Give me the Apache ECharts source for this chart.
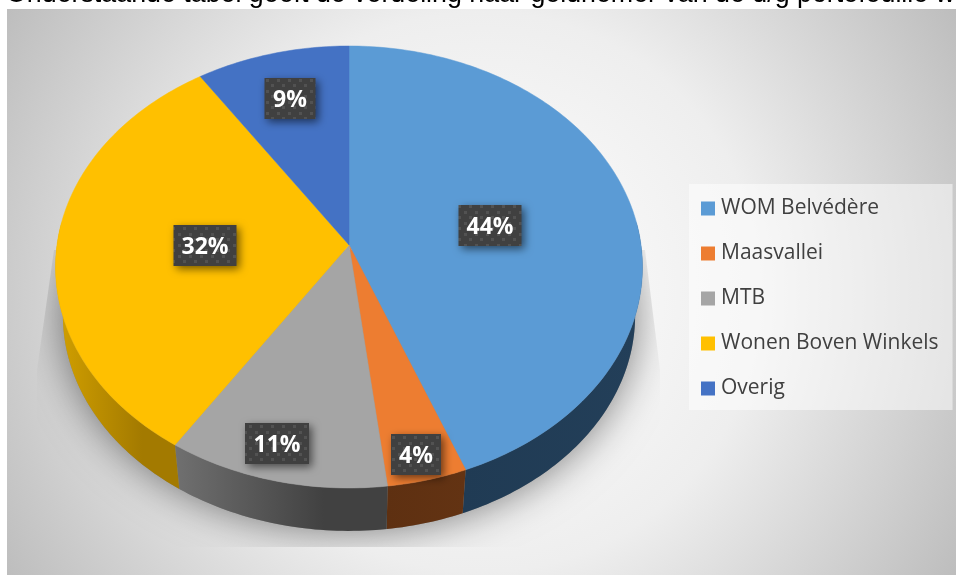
<!DOCTYPE html>
<html>
<head>
<meta charset="utf-8">
<style>
  html, body { margin: 0; padding: 0; background: #fff; overflow: hidden; }
  #chart { width: 956px; height: 575px; }
</style>
<script src="https://cdn.jsdelivr.net/npm/echarts@6/dist/echarts.min.js"></script>
</head>
<body>
<div id="chart"></div>
<script>
'use strict';

const heading = 'Onderstaande tabel geeft de verdeling naar geldnemer van de d/g portefeuille w';
const categories = ['WOM Belvédère', 'Maasvallei', 'MTB', 'Wonen Boven Winkels', 'Overig'];
const shares = [44.1, 4.0, 11.1, 31.5, 9.3];

const colors = ['#5B9BD5', '#ED7D31', '#A5A5A5', '#FFC000', '#4472C4'];
const wallColors = [
    ['#233f59', '#203b54'],
    ['#633313', '#5e3011'],
    ['#707070', '#414141'],
    ['#d2a000', '#a37a00'],
    ['#29446f', '#29446f']
];
// Label boxes do not follow the slices' centres in the original, so place them by hand.
const labelCentres = [[490, 226], [416, 455], [277, 444], [205, 246], [290, 99]];
const labelWidths = [63, 50, 64, 63, 51];

// Perspective view of a tilted disc: k is how strongly the front grows.
const disc = { cx: 349, cy: 245, rx: 292, ry: 218.8, k: 0.0995, lowerScale: 0.975, lowerDrop: 49 };

const total = shares.reduce((a, b) => a + b, 0);
const sliceStart = (i) => shares.slice(0, i).reduce((a, b) => a + b, 0) / total * 360;

const rimPoint = (deg, scale = 1, drop = 0) => {
    const a = deg * Math.PI / 180;
    const u = Math.sin(a);
    const v = -Math.cos(a);
    const d = 1 - disc.k * v;
    return [disc.cx + disc.rx * u / d * scale, disc.cy + disc.ry * v / d * scale + drop];
};

const arc = (from, to, scale, drop) => {
    const pts = [];
    const steps = Math.max(2, Math.ceil(to - from));
    for (let i = 0; i <= steps; i++) {
        pts.push(rimPoint(from + (to - from) * i / steps, scale, drop));
    }
    return pts;
};

const dotPattern = () => {
    const c = document.createElement('canvas');
    c.width = 11;
    c.height = 11;
    const ctx = c.getContext('2d');
    ctx.fillStyle = '#404040';
    ctx.fillRect(0, 0, 11, 11);
    ctx.fillStyle = '#525252';
    ctx.fillRect(2, 2, 3, 3);
    ctx.fillRect(7, 7, 3, 3);
    return { image: c, repeat: 'repeat' };
};
const pattern = dotPattern();

const renderSlice = (index) => (params, api) => {
    const from = sliceStart(index);
    const to = from + api.value(0) / total * 360;
    const children = [];

    // only the front of the wall is visible
    const wallFrom = Math.max(from, 84);
    const wallTo = Math.min(to, 276);
    if (wallFrom < wallTo) {
        const top = arc(wallFrom, wallTo);
        const bottom = arc(wallFrom, wallTo, disc.lowerScale, disc.lowerDrop).reverse();
        const [light, dark] = wallColors[index];
        const darkOnLeft = (wallFrom + wallTo) / 2 < 180;
        children.push({
            type: 'polygon',
            shape: { points: top.concat(bottom) },
            style: {
                fill: new echarts.graphic.LinearGradient(0, 0, 1, 0, darkOnLeft
                    ? [{ offset: 0, color: dark }, { offset: 1, color: light }]
                    : [{ offset: 0, color: light }, { offset: 0.7, color: dark }, { offset: 1, color: dark }])
            }
        });
    }

    children.push({
        type: 'polygon',
        shape: { points: [[disc.cx, disc.cy]].concat(arc(from, to)) },
        style: { fill: colors[index], stroke: colors[index], lineWidth: 0.5 }
    });
    return { type: 'group', children };
};

const renderShadow = () => ({
    type: 'polygon',
    shape: { points: arc(0, 360, disc.lowerScale, disc.lowerDrop) },
    style: {
        fill: '#8a8a8a',
        shadowBlur: 42,
        shadowColor: 'rgba(0,0,0,0.5)'
    },
    clipPath: {
        type: 'polygon',
        shape: { points: [[54, 250], [37, 370], [37, 547], [660, 547], [660, 370], [645, 250]] }
    }
});

const renderLabel = (params, api) => {
    const [x, y] = labelCentres[params.dataIndex];
    const w = labelWidths[params.dataIndex];
    return {
        type: 'group',
        children: [
            {
                type: 'rect',
                shape: { x: x - w / 2, y: y - 21, width: w, height: 41 },
                style: {
                    fill: pattern,
                    shadowBlur: 9,
                    shadowOffsetX: 3,
                    shadowOffsetY: 3,
                    shadowColor: 'rgba(0,0,0,0.55)'
                }
            },
            {
                type: 'text',
                style: {
                    x: x,
                    y: y + 1,
                    text: Math.round(api.value(0)) + '%',
                    fill: '#fff',
                    font: 'bold 23px "Open Sans"',
                    align: 'center',
                    verticalAlign: 'middle'
                }
            }
        ]
    };
};

const chart = echarts.init(document.getElementById('chart'), null, { renderer: 'canvas' });

chart.setOption({
    animation: false,
    backgroundColor: '#fff',
    color: colors,
    title: {
        text: heading,
        left: 6,
        top: -19,
        padding: 0,
        textStyle: { fontFamily: 'Liberation Sans', fontSize: 26.8, fontWeight: 'normal', color: '#000' }
    },
    legend: {
        data: categories,
        orient: 'vertical',
        left: 689,
        top: 184,
        padding: [14, 14, 11, 12],
        itemWidth: 14,
        itemHeight: 14,
        itemGap: 24,
        icon: 'rect',
        backgroundColor: 'rgba(255,255,255,0.5)',
        selectedMode: false,
        textStyle: { fontFamily: 'Open Sans', fontSize: 21, color: '#404040', padding: [0, 0, 0, 1] }
    },
    graphic: [{
        type: 'rect',
        z: -10,
        shape: { x: 7, y: 9, width: 949, height: 566 },
        style: {
            fill: new echarts.graphic.RadialGradient(481, 292, 560, [
                { offset: 0, color: '#ffffff' },
                { offset: 0.5, color: '#eeeeee' },
                { offset: 1, color: '#bcbcbc' }
            ], true)
        }
    }],
    series: [
        {
            type: 'custom',
            name: 'schaduw',
            coordinateSystem: 'none',
            silent: true,
            z: 1,
            clip: false,
            data: [[total]],
            renderItem: renderShadow
        },
        ...categories.map((name, i) => ({
            type: 'custom',
            name,
            coordinateSystem: 'none',
            silent: true,
            z: 2,
            clip: false,
            itemStyle: { color: colors[i] },
            data: [[shares[i]]],
            renderItem: renderSlice(i)
        })),
        {
            type: 'custom',
            name: 'labels',
            coordinateSystem: 'none',
            silent: true,
            z: 5,
            clip: false,
            data: shares.map((s) => [s]),
            renderItem: renderLabel
        }
    ]
});
</script>
</body>
</html>
